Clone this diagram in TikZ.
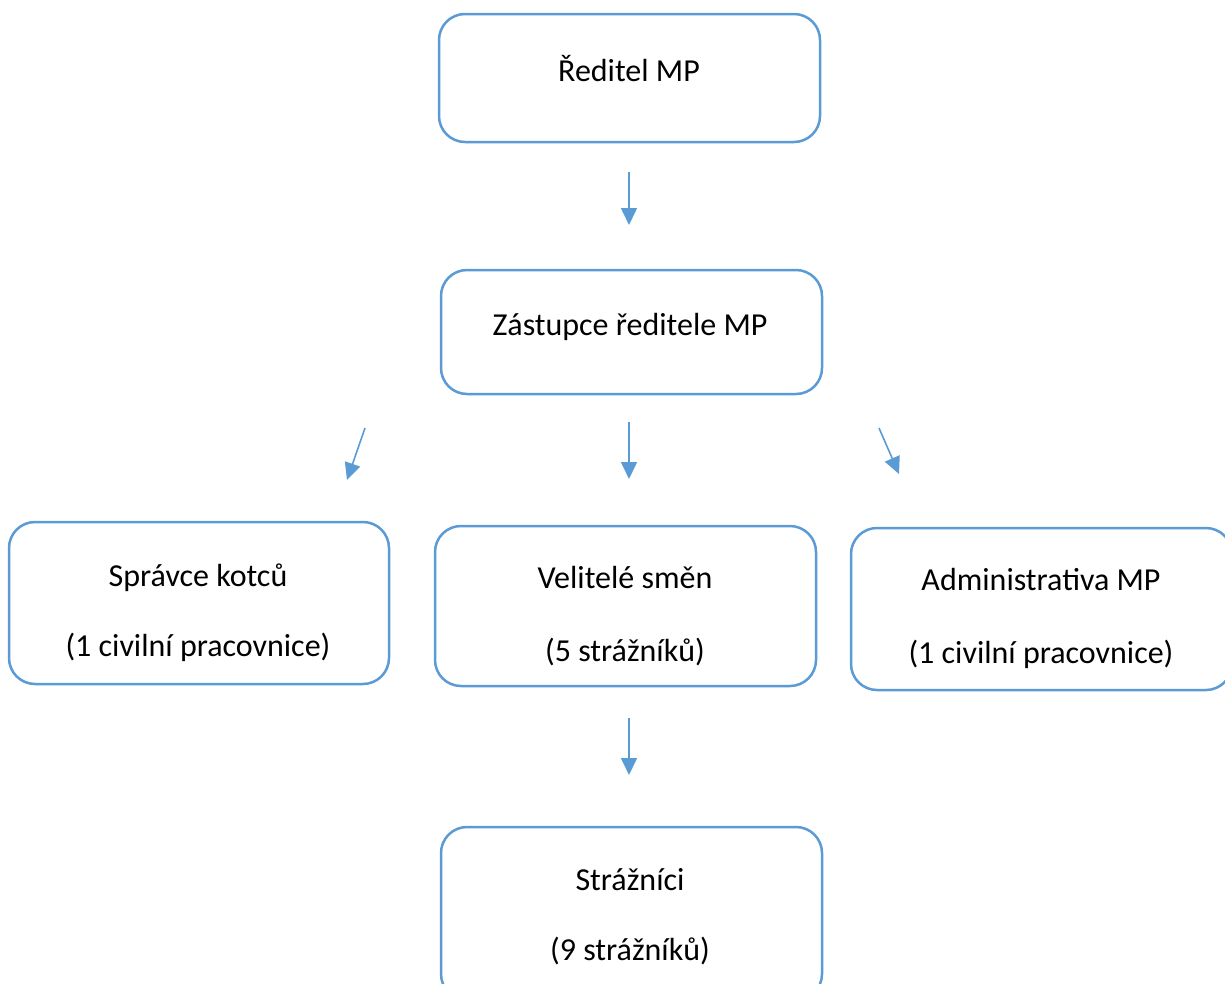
\documentclass[tikz,border=0pt]{standalone}
\usepackage{fontspec}
\setmainfont{Carlito}
\usetikzlibrary{arrows.meta}
\definecolor{boxblue}{HTML}{5B9BD5}
\begin{document}
\begin{tikzpicture}[x=1pt,y=-1pt,
  orgbox/.style={draw=boxblue,line width=2.5pt,rounded corners=26pt,fill=white},
  lbl/.style={font=\fontsize{32}{36}\selectfont,text=black,inner sep=0pt,anchor=base},
  arr/.style={draw=boxblue,line width=1.6pt,-{Triangle[width=16pt,length=17pt]}}]
\useasboundingbox (0,0) rectangle (1225,983);
\clip (0,0) rectangle (1225,983);
% boxes
\draw[orgbox] (439,14) rectangle (820,142);
\draw[orgbox] (441,270) rectangle (822,394);
\draw[orgbox] (9,522) rectangle (389,684);
\draw[orgbox] (435,526) rectangle (816,686);
\draw[orgbox] (851,528) rectangle (1232,690);
\draw[orgbox] (441,827) rectangle (822,1000);
% texts
\node[lbl] (t1) at (629,81) {Ředitel MP};
\node[lbl] (t2) at (630,335) {Zástupce ředitele MP};
\node[lbl] (t3a) at (198,586) {Správce kotců};
\node[lbl] (t3b) at (198,656) {(1 civilní pracovnice)};
\node[lbl] (t4a) at (625,588) {Velitelé směn};
\node[lbl] (t4b) at (625,661) {(5 strážníků)};
\node[lbl] (t5a) at (1041,590) {Administrativa MP};
\node[lbl] (t5b) at (1041,663) {(1 civilní pracovnice)};
\node[lbl] (t6a) at (630,890) {Strážníci};
\node[lbl] (t6b) at (630,960) {(9 strážníků)};
% arrows
\coordinate (a1s) at (629,172); \coordinate (a1e) at (629,225);
\coordinate (a2s) at (365,428); \coordinate (a2e) at (347,480);
\coordinate (a3s) at (629,422); \coordinate (a3e) at (629,479);
\coordinate (a4s) at (879,428); \coordinate (a4e) at (899,474);
\coordinate (a5s) at (629,718); \coordinate (a5e) at (629,775);
\draw[arr] (a1s) -- (a1e);
\draw[arr] (a2s) -- (a2e);
\draw[arr] (a3s) -- (a3e);
\draw[arr] (a4s) -- (a4e);
\draw[arr] (a5s) -- (a5e);
\end{tikzpicture}
\end{document}
